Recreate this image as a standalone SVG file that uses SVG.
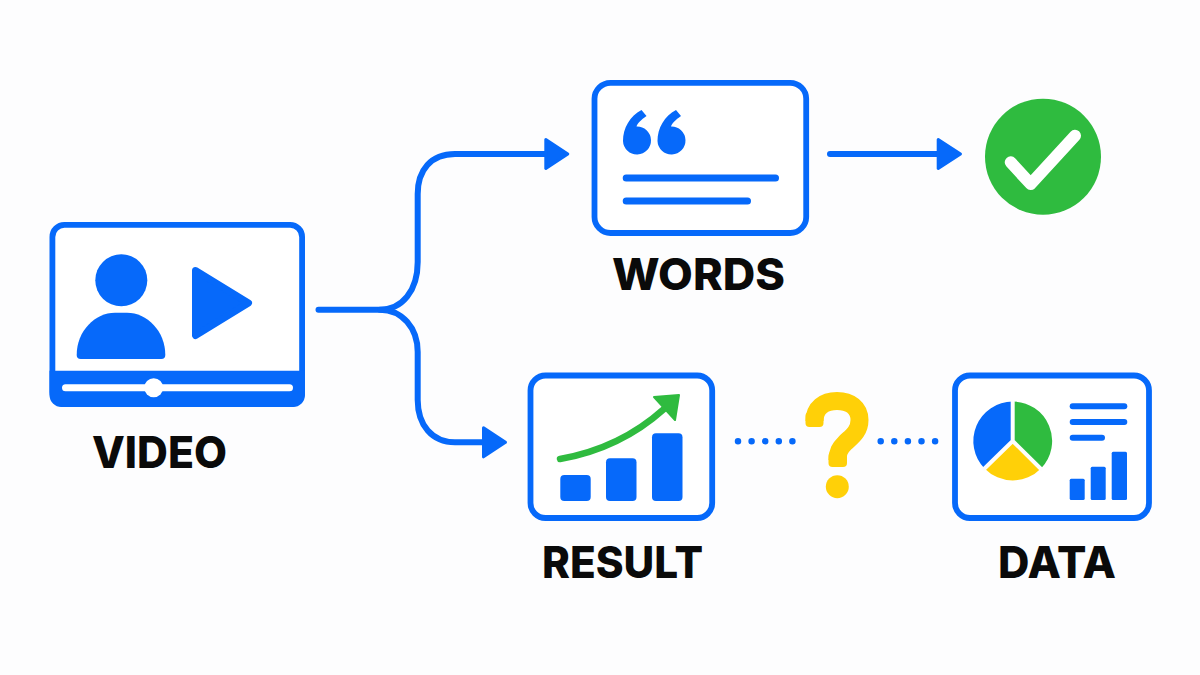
<svg xmlns="http://www.w3.org/2000/svg" width="1200" height="675" viewBox="0 0 1200 675">
<style>
.frame{fill:#fff;stroke:#0669fa;stroke-width:5.800}
.blue{fill:#0669fa}
.green{fill:#2fbb3f}
.yellow{fill:#ffd008}
.wire{fill:none;stroke:#0669fa;stroke-width:6;stroke-linecap:round}
.head{fill:#0669fa;stroke:#0669fa;stroke-width:3;stroke-linejoin:round}
.dot{fill:none;stroke:#0669fa;stroke-width:6.500;stroke-linecap:round;stroke-dasharray:0 13.600}
.label{font-family:Inter,"Liberation Sans",sans-serif;font-weight:800;font-size:44px;fill:#0a0a0a}
</style>
<rect width="1200" height="675" fill="#fdfdfe"/>
<g id="connectors">
<path class="wire" d="M318.500 309.700H380C402 309.700 417.700 291 417.700 262V194C417.700 170 431 154 455 154H546"/>
<path class="wire" d="M380 309.700C402 309.700 417.700 328 417.700 352V400C417.700 425 432 442.300 455 442.300H484"/>
<path class="head" d="M545.800 139.500L567.800 154L545.800 168.500Z"/>
<path class="head" d="M483.500 427.800L505.500 442.300L483.500 456.800Z"/>
<path class="wire" d="M830 154H938"/>
<path class="head" d="M938.200 139.500L960.500 154L938.200 168.500Z"/>
<path class="dot" d="M738 441.300H794"/>
<path class="dot" d="M880.700 441.300H937"/>
</g>
<g id="video">
<rect class="frame" x="52.400" y="224.900" width="249.700" height="179.200" rx="12"/>
<path class="blue" d="M49.500 370.700H305V395A12 12 0 0 1 293 407H61.500A12 12 0 0 1 49.500 395Z"/>
<rect x="62" y="384.200" width="231" height="7" rx="3.500" fill="#fff"/>
<circle cx="153.700" cy="387.700" r="9.500" fill="#fff"/>
<circle class="blue" cx="121.300" cy="280.300" r="26"/>
<path class="blue" d="M76.700 355C76.700 331 95 312.700 115 312.700H127C147 312.700 165.300 331 165.300 355A4 4 0 0 1 161.300 359H80.700A4 4 0 0 1 76.700 355Z"/>
<path class="blue" stroke="#0669fa" stroke-width="7" stroke-linejoin="round" d="M195.500 270.500L248.500 303L195.500 335.500Z"/>
<text class="label" x="159.500" y="468" text-anchor="middle" textLength="135" lengthAdjust="spacingAndGlyphs">VIDEO</text>
</g>
<g id="words">
<rect class="frame" x="594.500" y="82.800" width="211.700" height="150.200" rx="16"/>
<path id="q" class="blue" d="M641.500 110L646.500 116C641 120 637.500 123 636.500 126.500A14 14 0 1 1 623 141C623 128 630 116 641.500 110Z"/>
<use href="#q" x="34.500"/>
<rect class="blue" x="622.700" y="174.500" width="156.300" height="7" rx="3.500"/>
<rect class="blue" x="622.700" y="197.500" width="128.300" height="7" rx="3.500"/>
<text class="label" x="698.500" y="290" text-anchor="middle" textLength="173" lengthAdjust="spacingAndGlyphs">WORDS</text>
</g>
<g id="check">
<circle class="green" cx="1043" cy="156.700" r="58"/>
<path d="M1010.700 162.300L1030.700 184L1075 135.700" fill="none" stroke="#fff" stroke-width="12" stroke-linecap="round" stroke-linejoin="round"/>
</g>
<g id="result">
<rect class="frame" x="530.500" y="375.500" width="181.700" height="142.500" rx="15"/>
<rect class="blue" x="560.300" y="475" width="30.400" height="26" rx="4"/>
<rect class="blue" x="606" y="458.300" width="30.500" height="42.700" rx="4"/>
<rect class="blue" x="652" y="433.300" width="30.500" height="67.700" rx="4"/>
<path d="M560 459C600 452 635 435 664 409" fill="none" stroke="#2fbb3f" stroke-width="6.500" stroke-linecap="round"/>
<path class="green" stroke="#2fbb3f" stroke-width="2" stroke-linejoin="round" d="M654 397L679 395L675 420Z"/>
<text class="label" x="622.500" y="578" text-anchor="middle" textLength="161" lengthAdjust="spacingAndGlyphs">RESULT</text>
</g>
<g id="question">
<path d="M814.500 421C814.500 408 824 401 837 401C850 401 859.500 408 859.500 420C859.500 432 851 437 845 443C840 448 837.500 452 837.500 460" fill="none" stroke="#ffd008" stroke-width="18"/>
<rect class="yellow" x="805.500" y="412" width="18" height="15" rx="4"/>
<rect class="yellow" x="828.500" y="452" width="18.500" height="15" rx="4"/>
<circle class="yellow" cx="837.300" cy="486.700" r="11.500"/>
</g>
<g id="data">
<rect class="frame" x="955" y="375.500" width="194" height="142.500" rx="15"/>
<path class="blue" d="M1012.700 441V401.500A39.500 39.500 0 0 0 984.500 468.500Z"/>
<path class="green" d="M1012.700 441V401.500A39.500 39.500 0 0 1 1041 468.500Z"/>
<path class="yellow" d="M1012.700 441L984.500 468.500A39.500 39.500 0 0 0 1041 468.500Z"/>
<path d="M1012.700 441V400M1012.700 441L983 470M1012.700 441L1042 470" fill="none" stroke="#fdfdfe" stroke-width="4"/>
<rect class="blue" x="1069.700" y="403.300" width="57.600" height="6" rx="3"/>
<rect class="blue" x="1069.700" y="419" width="57.600" height="6" rx="3"/>
<rect class="blue" x="1069.700" y="434.700" width="35.300" height="6" rx="3"/>
<rect class="blue" x="1069.700" y="478.700" width="15" height="21.300" rx="1.500"/>
<rect class="blue" x="1090.700" y="466.700" width="15" height="33.300" rx="1.500"/>
<rect class="blue" x="1111.700" y="451.700" width="15.300" height="48.300" rx="1.500"/>
<text class="label" x="1057" y="578" text-anchor="middle" textLength="118" lengthAdjust="spacingAndGlyphs">DATA</text>
</g>
</svg>
